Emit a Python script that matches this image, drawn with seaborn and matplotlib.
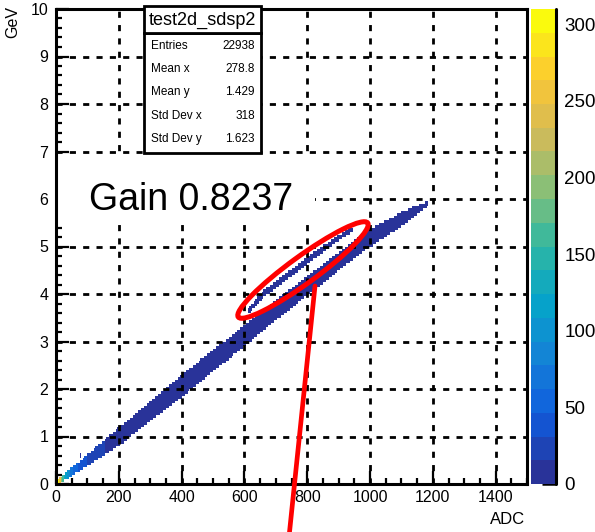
import numpy as np
import matplotlib
matplotlib.use("Agg")
import matplotlib.pyplot as plt
import seaborn as sns
from matplotlib.colors import LinearSegmentedColormap, ListedColormap
from matplotlib.patches import Ellipse, Rectangle
from matplotlib.lines import Line2D
from matplotlib.ticker import MultipleLocator

# main band of the 2D histogram (ADC -> GeV)
main_adc = [0, 100, 200, 300, 400, 500, 600, 700, 800, 900, 1000, 1100, 1185]
main_gev = [0.02, 0.50, 1.00, 1.53, 2.06, 2.60, 3.12, 3.66, 4.17, 4.68, 5.18, 5.57, 5.90]
main_half = [0.05, 0.12, 0.19, 0.21, 0.23, 0.23, 0.22, 0.21, 0.20, 0.19, 0.19, 0.15, 0.06]

# second (upper) branch, the one inside the red ellipse
branch_adc = [610, 660, 750, 850, 945]
branch_gev = [3.62, 4.00, 4.45, 4.95, 5.38]
branch_half = [0.06, 0.08, 0.08, 0.07, 0.05]

# entries per cell along the band (hot spot near the origin)
count_adc = [0, 8, 18, 30, 45, 70, 100, 140, 200]
count_val = [220, 300, 190, 120, 70, 45, 30, 18, 8]

# a couple of isolated cells
stray_adc = [80, 80]
stray_gev = [0.57, 0.62]
stray_val = [8, 8]

hist_name = "test2d_sdsp2"
stats_names = ["Entries", "Mean x", "Mean y", "Std Dev x", "Std Dev y"]
stats_values = ["22938", "278.8", "1.429", "318", "1.623"]
gain_label = "Gain 0.8237"

x_ticks = [0, 200, 400, 600, 800, 1000, 1200, 1400]
y_ticks = [0, 1, 2, 3, 4, 5, 6, 7, 8, 9, 10]
z_ticks = [0, 50, 100, 150, 200, 250, 300]

# ROOT-like bird palette, 20 contour levels
bird = LinearSegmentedColormap.from_list("bird", [
    (0.000, (0.16, 0.20, 0.60)),
    (0.125, (0.06, 0.36, 0.87)),
    (0.250, (0.08, 0.51, 0.84)),
    (0.375, (0.02, 0.64, 0.79)),
    (0.500, (0.18, 0.72, 0.64)),
    (0.625, (0.53, 0.75, 0.47)),
    (0.750, (0.82, 0.73, 0.35)),
    (0.875, (0.99, 0.78, 0.20)),
    (1.000, (0.98, 0.98, 0.05)),
])
cmap = ListedColormap(bird(np.linspace(0, 1, 20)))

# cells
xedges = np.linspace(0, 1500, 301)
yedges = np.linspace(0, 10, 201)
xc = (xedges[:-1] + xedges[1:]) / 2
yc = (yedges[:-1] + yedges[1:]) / 2
X, Y = np.meshgrid(xc, yc)


def band(adc, gev, half):
    c = np.interp(X, adc, gev)
    h = np.interp(X, adc, half)
    return (X >= adc[0]) & (X <= adc[-1]) & (np.abs(Y - c) <= h)


inside = band(main_adc, main_gev, main_half) | band(branch_adc, branch_gev, branch_half)
W = np.where(inside, np.interp(X, count_adc, count_val), 0.0)
for a, g, v in zip(stray_adc, stray_gev, stray_val):
    W[np.searchsorted(yedges, g) - 1, np.searchsorted(xedges, a) - 1] = v
m = W > 0

sns.set_style("white")
plt.rcParams["font.family"] = ["Liberation Sans", "DejaVu Sans"]
plt.rcParams["text.color"] = "black"
plt.rcParams["axes.edgecolor"] = "black"
plt.rcParams["xtick.color"] = "black"
plt.rcParams["ytick.color"] = "black"

W_PX, H_PX = 595, 532
fig = plt.figure(figsize=(W_PX / 100, H_PX / 100), dpi=100)
ax = fig.add_axes([56 / W_PX, 1 - 484 / H_PX, 471 / W_PX, 475 / H_PX])
cax = fig.add_axes([531 / W_PX, 1 - 484 / H_PX, 25 / W_PX, 475 / H_PX])

sns.histplot(x=X[m], y=Y[m], weights=W[m], bins=(xedges, yedges),
             cmap=cmap, vmax=310, cbar=True, cbar_ax=cax, ax=ax)

ax.set_xlim(0, 1500)
ax.set_ylim(0, 10)
ax.set_xticks(x_ticks)
ax.set_yticks(y_ticks)
ax.xaxis.set_minor_locator(MultipleLocator(50))
ax.yaxis.set_minor_locator(MultipleLocator(0.2))
ax.set_xlabel("")
ax.set_ylabel("")
ax.tick_params(which="both", direction="in", top=False, right=False,
               bottom=True, left=True, width=1.6, labelsize=11.5)
ax.tick_params(which="major", length=9.5)
ax.tick_params(which="minor", length=4.5)
ax.tick_params(axis="x", pad=4.5)
ax.tick_params(axis="y", pad=5.5)
for s in ax.spines.values():
    s.set_linewidth(2.2)
    s.set_color("black")

# dashed grid at the major ticks, kept under the label box
dash = (0, (2.2, 2.6))
for xv in x_ticks:
    ax.axvline(xv, color="black", linestyle=dash, linewidth=2.0, zorder=1.5)
for yv in y_ticks:
    ax.axhline(yv, color="black", linestyle=dash, linewidth=2.0, zorder=1.5)

# colour scale
cbar = ax.collections[0].colorbar
cbar.outline.set_visible(False)
cbar.set_ticks(z_ticks)
cax.yaxis.set_ticks_position("right")
cax.tick_params(direction="in", length=10, width=1.8, pad=6, labelsize=13.5)
cax.minorticks_off()
cax.plot([1, 1], [0, 1], transform=cax.transAxes, color="black", lw=2.2, clip_on=False)

# gain label on a white box
ax.add_patch(Rectangle((3, 5.45), 822, 1.41, facecolor="white", edgecolor="none", zorder=1.8))
ax.text(105, 5.76, gain_label, fontsize=27, ha="left", va="baseline", zorder=3)

fig.text(13 / W_PX, 1 - 22 / H_PX, "GeV", rotation=90, ha="center", va="center", fontsize=11.5)
fig.text(525 / W_PX, 1 - 520 / H_PX, "ADC", ha="right", va="center", fontsize=12)

# stats box
bx0, bx1 = 144, 261
fig.add_artist(Rectangle((bx0 / W_PX, 1 - 153 / H_PX), (bx1 - bx0) / W_PX, 120 / H_PX,
                         transform=fig.transFigure, facecolor="white",
                         edgecolor="black", lw=2.0, zorder=10))
fig.add_artist(Rectangle((bx0 / W_PX, 1 - 33 / H_PX), (bx1 - bx0) / W_PX, 27 / H_PX,
                         transform=fig.transFigure, facecolor="white",
                         edgecolor="black", lw=2.0, zorder=10))
fig.text((bx0 + bx1) / 2 / W_PX, 1 - 20 / H_PX, hist_name, ha="center", va="center",
         fontsize=13, zorder=11)
for i, (name, val) in enumerate(zip(stats_names, stats_values)):
    yy = 1 - (46 + 23.2 * i) / H_PX
    fig.text(151 / W_PX, yy, name, ha="left", va="center", fontsize=8.5, zorder=11)
    fig.text(255 / W_PX, yy, val, ha="right", va="center", fontsize=8.5, zorder=11)

# red annotation: ellipse round the upper branch and a pointer line
fig.add_artist(Ellipse((3.03, (H_PX - 270) / 100), 1.60, 0.27, angle=36,
                       transform=fig.dpi_scale_trans, fill=False,
                       edgecolor="#ff0000", lw=3.6, zorder=12))
fig.add_artist(Line2D([3.15, 2.89], [(H_PX - 286) / 100, -0.05],
                      transform=fig.dpi_scale_trans, color="#ff0000",
                      lw=3.4, zorder=12))

fig.savefig("out.png", dpi=100)
